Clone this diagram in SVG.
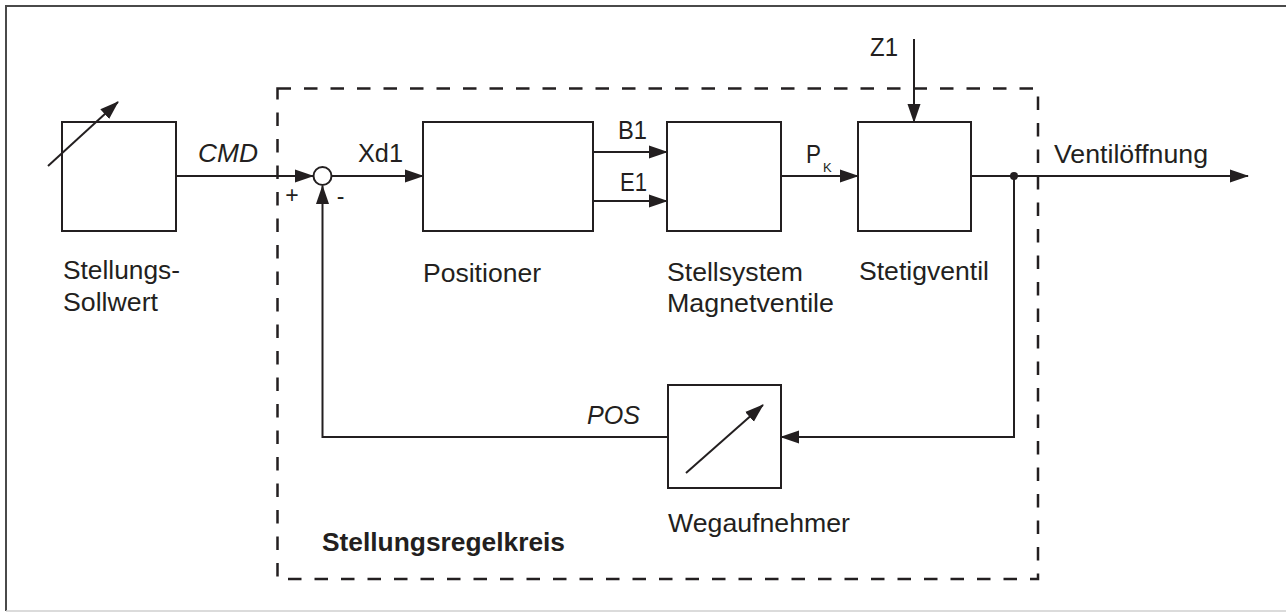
<svg xmlns="http://www.w3.org/2000/svg" width="1286" height="612" viewBox="0 0 1286 612">
<defs>
<style>
.box{fill:#fff;stroke:#231f20;stroke-width:2}
.ln{fill:none;stroke:#231f20;stroke-width:2}
.t{font-family:"Liberation Sans",Arial,sans-serif;font-size:25px;fill:#231f20}
.i{font-style:italic}
.b{font-weight:bold}
.sm{font-size:23px}
.sub{font-size:13px}
</style>
<marker id="ah" markerUnits="userSpaceOnUse" markerWidth="19" markerHeight="14" refX="18" refY="7" orient="auto">
<path d="M0,0.5 L19,7 L0,13.5 z" fill="#231f20"/>
</marker>
</defs>
<rect width="1286" height="612" fill="#fff"/>
<g id="frame">
<path d="M6,611 V6 H1286" fill="none" stroke="#4a4a4a" stroke-width="2"/>
<line x1="6" y1="611" x2="1286" y2="611" stroke="#cfcfcf" stroke-width="1.5"/>
</g>
<g id="regelkreis">
<rect x="277.5" y="88.5" width="760.5" height="490.5" fill="none" stroke="#231f20" stroke-width="2.5" stroke-dasharray="13.5 13"/>
<text class="t b" x="322" y="551" textLength="243" lengthAdjust="spacingAndGlyphs">Stellungsregelkreis</text>
</g>
<g id="sollwert">
<rect class="box" x="62" y="122" width="114" height="109"/>
<line class="ln" x1="48" y1="166" x2="118" y2="102" marker-end="url(#ah)"/>
<text class="t" x="63" y="279" textLength="117" lengthAdjust="spacingAndGlyphs">Stellungs-</text>
<text class="t" x="63" y="311" textLength="95" lengthAdjust="spacingAndGlyphs">Sollwert</text>
</g>
<g id="summing">
<circle cx="322.5" cy="176" r="9" fill="#fff" stroke="#231f20" stroke-width="2"/>
<text class="t sm" x="292" y="203" text-anchor="middle">+</text>
<text class="t sm" x="340.5" y="204" text-anchor="middle">-</text>
</g>
<g id="positioner">
<rect class="box" x="423" y="122" width="170" height="109"/>
<text class="t" x="423" y="282" textLength="118" lengthAdjust="spacingAndGlyphs">Positioner</text>
</g>
<g id="stellsystem">
<rect class="box" x="667" y="122" width="114" height="109"/>
<text class="t" x="667" y="281" textLength="136" lengthAdjust="spacingAndGlyphs">Stellsystem</text>
<text class="t" x="667" y="312" textLength="167" lengthAdjust="spacingAndGlyphs">Magnetventile</text>
</g>
<g id="stetigventil">
<rect class="box" x="858" y="122" width="113" height="109"/>
<text class="t" x="859" y="280" textLength="130" lengthAdjust="spacingAndGlyphs">Stetigventil</text>
</g>
<g id="wegaufnehmer">
<rect class="box" x="668" y="385" width="113" height="103"/>
<line class="ln" x1="686" y1="473" x2="763" y2="405" marker-end="url(#ah)"/>
<text class="t" x="668" y="532" textLength="182" lengthAdjust="spacingAndGlyphs">Wegaufnehmer</text>
</g>
<g id="connectors">
<line class="ln" x1="176" y1="176" x2="313" y2="176" marker-end="url(#ah)"/>
<text class="t i" x="198" y="162" textLength="60" lengthAdjust="spacingAndGlyphs">CMD</text>
<line class="ln" x1="332" y1="176" x2="423" y2="176" marker-end="url(#ah)"/>
<text class="t" x="358" y="162" textLength="45" lengthAdjust="spacingAndGlyphs">Xd1</text>
<line class="ln" x1="593" y1="152" x2="667" y2="152" marker-end="url(#ah)"/>
<text class="t" x="618" y="139" textLength="29" lengthAdjust="spacingAndGlyphs">B1</text>
<line class="ln" x1="593" y1="201" x2="667" y2="201" marker-end="url(#ah)"/>
<text class="t" x="620" y="191" textLength="27" lengthAdjust="spacingAndGlyphs">E1</text>
<line class="ln" x1="781" y1="176" x2="858" y2="176" marker-end="url(#ah)"/>
<text class="t" x="806" y="163" textLength="15" lengthAdjust="spacingAndGlyphs">P</text>
<text class="t sub" x="823" y="172">K</text>
<line class="ln" x1="914" y1="39" x2="914" y2="122" marker-end="url(#ah)"/>
<text class="t" x="870" y="56" textLength="28" lengthAdjust="spacingAndGlyphs">Z1</text>
<line class="ln" x1="971" y1="176" x2="1248" y2="176" marker-end="url(#ah)"/>
<text class="t" x="1054" y="163" textLength="154" lengthAdjust="spacingAndGlyphs">Ventilöffnung</text>
<circle cx="1014" cy="176" r="4" fill="#231f20"/>
<polyline class="ln" points="1014,176 1014,437 781,437" marker-end="url(#ah)"/>
<polyline class="ln" points="668,437 322.5,437 322.5,186" marker-end="url(#ah)"/>
<text class="t i" x="587" y="424" textLength="53" lengthAdjust="spacingAndGlyphs">POS</text>
</g>
</svg>
